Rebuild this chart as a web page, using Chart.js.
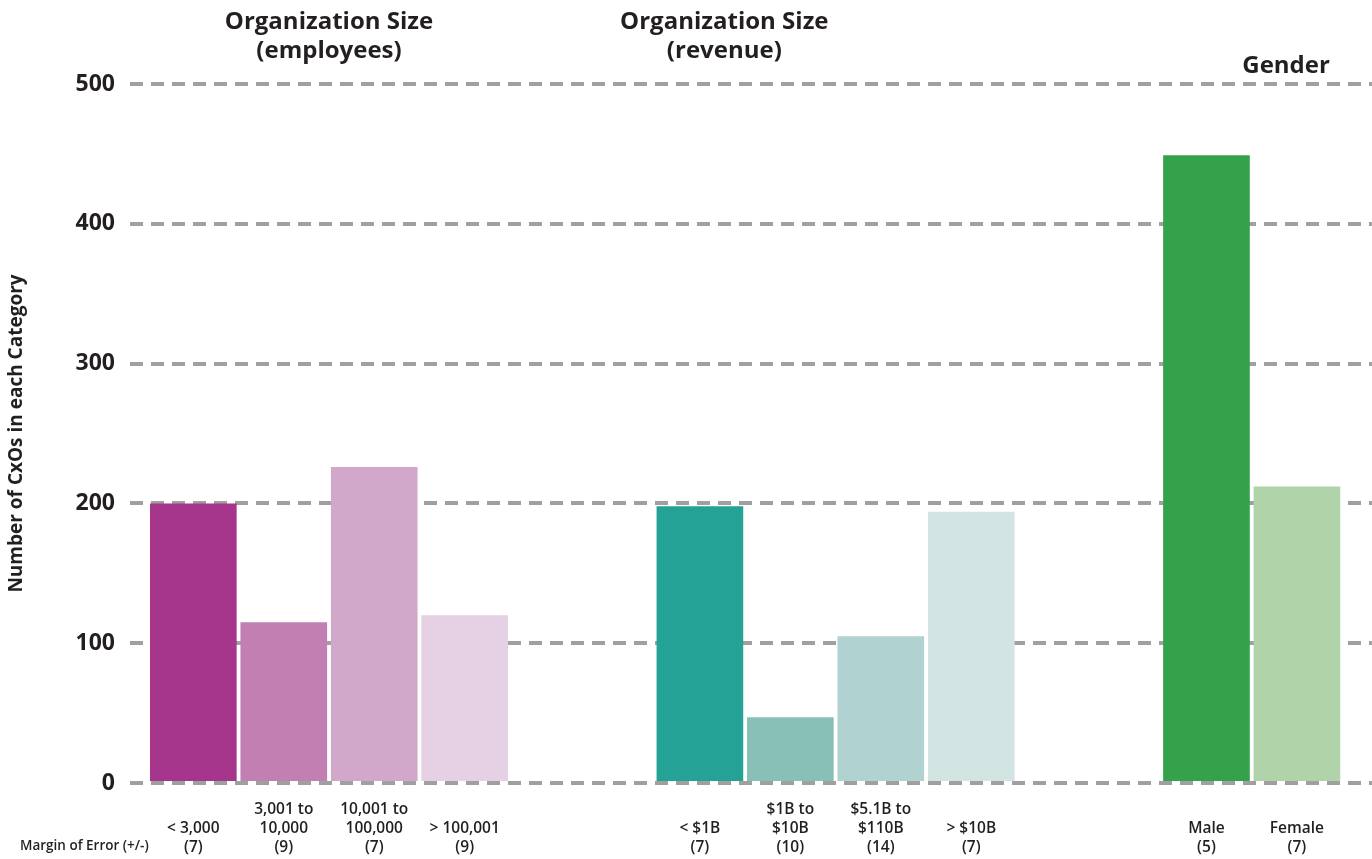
<!DOCTYPE html>
<html>
<head>
<meta charset="utf-8">
<script src="https://cdn.jsdelivr.net/npm/chart.js@4.4.1/dist/chart.umd.min.js"></script>
<style>
  html, body { margin: 0; padding: 0; background: #ffffff; }
  #wrap { width: 1372px; height: 859px; position: relative; }
</style>
</head>
<body>
<div id="wrap"><canvas id="c"></canvas></div>
<script>
// ---- Data ----
const groupTitles = [['Organization Size', '(employees)'], ['Organization Size', '(revenue)'], ['Gender']];

const employeesLabels = [['< 3,000'], ['3,001 to', '10,000'], ['10,001 to', '100,000'], ['> 100,001']];
const employeesMoE = [7, 9, 7, 9];
const employeesValues = [200, 115, 226, 120];

const revenueLabels = [['< $1B'], ['$1B to', '$10B'], ['$5.1B to', '$110B'], ['> $10B']];
const revenueMoE = [7, 10, 14, 7];
const revenueValues = [198, 47, 105, 194];

const genderLabels = [['Male'], ['Female']];
const genderMoE = [5, 7];
const genderValues = [449, 212];

const yTicks = [0, 100, 200, 300, 400, 500];
const yTitle = 'Number of CxOs in each Category';
const moeCaption = 'Margin of Error (+/-)';

// ---- Styles ----
const employeesColors = ['#a6358c', '#c17fb2', '#d1a8ca', '#e5d1e3'];
const revenueColors = ['#25a296', '#88c0b8', '#b0d2d0', '#d3e5e3'];
const genderColors = ['#33a24b', '#b0d3aa'];
const GROUP_PITCH = 5.6;              // layout spacing between group starts (in bar slots)
const TITLE_OFFSETS = [1.5, 0.27, 0.88]; // title centre relative to group start (bar slots)
const TITLE_Y = [[22, 51], [22, 51], [66]];
const TEXT = '#231f20';
const GRID = '#a0a0a0';
const DASH = [13, 8];

// ---- Build ----
const groups = [
  { labels: employeesLabels, moe: employeesMoE, values: employeesValues, colors: employeesColors },
  { labels: revenueLabels, moe: revenueMoE, values: revenueValues, colors: revenueColors },
  { labels: genderLabels, moe: genderMoE, values: genderValues, colors: genderColors }
];
const points = [], colors = [], tickLabels = [], tickPos = [];
groups.forEach((g, gi) => {
  g.values.forEach((v, i) => {
    const pos = gi * GROUP_PITCH + i;
    points.push({ x: pos, y: v });
    colors.push(g.colors[i]);
    tickPos.push(pos);
    const lines = g.labels[i].concat(['(' + g.moe[i] + ')']);
    while (lines.length < 3) lines.unshift('');
    tickLabels.push(lines);
  });
});

const overlayPlugin = {
  id: 'overlay',
  afterDatasetsDraw(chart) {
    // zero baseline drawn over the bars
    const ctx = chart.ctx, a = chart.chartArea;
    const y0 = chart.scales.y.getPixelForValue(0);
    ctx.save();
    ctx.strokeStyle = GRID;
    ctx.lineWidth = 4;
    ctx.setLineDash(DASH);
    ctx.beginPath();
    ctx.moveTo(a.left, y0);
    ctx.lineTo(a.right, y0);
    ctx.stroke();
    ctx.restore();
  },
  afterDraw(chart) {
    const ctx = chart.ctx;
    const xs = chart.scales.x;
    ctx.save();
    ctx.fillStyle = TEXT;
    ctx.textAlign = 'center';
    ctx.textBaseline = 'middle';
    ctx.font = 'bold 24px "Open Sans"';
    groupTitles.forEach((t, gi) => {
      const px = xs.getPixelForValue(gi * GROUP_PITCH + TITLE_OFFSETS[gi]);
      t.forEach((line, li) => ctx.fillText(line, px, TITLE_Y[gi][li]));
    });
    ctx.font = '600 13.5px "Open Sans"';
    ctx.textAlign = 'left';
    ctx.fillText(moeCaption, 20, 846);
    ctx.restore();
  }
};

new Chart(document.getElementById('c'), {
  type: 'bar',
  data: {
    datasets: [{
      data: points,
      backgroundColor: colors,
      borderWidth: 0,
      barPercentage: 0.958,
      categoryPercentage: 1.0
    }]
  },
  options: {
    responsive: true,
    maintainAspectRatio: false,
    animation: false,
    layout: { padding: { top: 84, right: 0, left: 0, bottom: 0 } },
    plugins: { legend: { display: false }, tooltip: { enabled: false } },
    scales: {
      x: {
        type: 'linear',
        offset: false,
        min: -0.70,
        max: 13.03,
        grid: { display: false, drawTicks: false },
        border: { display: false },
        afterBuildTicks(scale) { scale.ticks = tickPos.map(v => ({ value: v })); },
        afterFit(scale) { scale.height = 76; },
        ticks: {
          autoSkip: false,
          maxRotation: 0,
          padding: 17,
          color: TEXT,
          font: { family: 'Open Sans', size: 15.5, weight: '600', lineHeight: 1.24 },
          callback: (v, i) => tickLabels[i]
        }
      },
      y: {
        min: 0,
        max: 500,
        afterBuildTicks(scale) { scale.ticks = yTicks.map(v => ({ value: v })); },
        afterFit(scale) { scale.width = 130; },
        border: { display: false, dash: DASH },
        grid: { color: GRID, lineWidth: 4, drawTicks: false },
        ticks: {
          padding: 15,
          color: TEXT,
          font: { family: 'Open Sans', size: 23, weight: 'bold' }
        },
        title: {
          display: true,
          text: yTitle,
          color: TEXT,
          padding: { top: 5, bottom: 0 },
          font: { family: 'Open Sans', size: 19, weight: 'bold' }
        }
      }
    }
  },
  plugins: [overlayPlugin]
});
</script>
</body>
</html>
